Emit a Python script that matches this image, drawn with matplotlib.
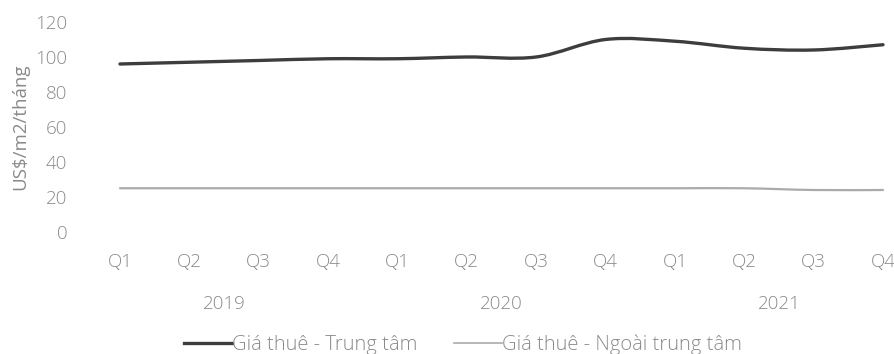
import numpy as np
import matplotlib.pyplot as plt
from matplotlib.path import Path
from matplotlib.patches import PathPatch
from matplotlib.lines import Line2D
from matplotlib.transforms import blended_transform_factory

plt.rcParams['font.family'] = ['Open Sans', 'DejaVu Sans']
plt.rcParams['font.weight'] = 'light'

quarters = ['Q1', 'Q2', 'Q3', 'Q4'] * 3
years = ['2019', '2020', '2021']
trung_tam = [96, 97, 98, 99, 99, 100, 100, 110, 109, 105, 104, 107]
ngoai_trung_tam = [25, 25, 25, 25, 25, 25, 25, 25, 25, 25, 24, 24]

dark = '#3d3d3d'
light = '#ababab'
txt = '#8a8a8a'
fs = 13.5


def smooth_path(xs, ys):
    # catmull-rom style bezier through the points
    pts = np.column_stack([xs, ys]).astype(float)
    verts = [pts[0]]
    codes = [Path.MOVETO]
    n = len(pts)
    for i in range(n - 1):
        p0 = pts[max(i - 1, 0)]
        p1 = pts[i]
        p2 = pts[i + 1]
        p3 = pts[min(i + 2, n - 1)]
        c1 = p1 + (p2 - p0) / 6.0
        c2 = p2 - (p3 - p1) / 6.0
        verts += [c1, c2, p2]
        codes += [Path.CURVE4] * 3
    return Path(verts, codes)


fig = plt.figure(figsize=(8.94, 3.54), dpi=100)
ax = fig.add_axes([0.1342, 0.3446, 0.8535, 0.5933])

x = np.arange(len(quarters))
ax.add_patch(PathPatch(smooth_path(x, trung_tam), facecolor='none',
                       edgecolor=dark, lw=2.4, capstyle='round', clip_on=False))
ax.add_patch(PathPatch(smooth_path(x, ngoai_trung_tam), facecolor='none',
                       edgecolor=light, lw=1.6, capstyle='round', clip_on=False))

ax.set_xlim(0, len(quarters) - 1)
ax.set_ylim(0, 120)
ax.set_yticks(range(0, 121, 20))
ax.set_xticks(x)
ax.set_xticklabels(quarters)
ax.tick_params(axis='both', length=0, labelcolor=txt, labelsize=fs)
ax.tick_params(axis='y', pad=38)
ax.tick_params(axis='x', pad=15)
for s in ax.spines.values():
    s.set_visible(False)

ax.set_ylabel('US$/m2/tháng', color=txt, fontsize=fs, labelpad=4)

tr = blended_transform_factory(ax.transData, ax.transAxes)
for i, y in enumerate(years):
    ax.text(4 * i + 1.5, -0.345, y, transform=tr, ha='center', va='center',
            color=txt, fontsize=fs)

handles = [Line2D([], [], color=dark, lw=2.4),
           Line2D([], [], color=light, lw=1.2)]
ax.legend(handles, ['Giá thuê - Trung tâm', 'Giá thuê - Ngoài trung tâm'],
          loc='center left', bbox_to_anchor=(0.084, -0.535), ncol=2,
          frameon=False, fontsize=14.5, labelcolor=txt, handlelength=2.4,
          handletextpad=0.0, columnspacing=1.8, borderaxespad=0, borderpad=0)

fig.savefig('out.png', dpi=100)
